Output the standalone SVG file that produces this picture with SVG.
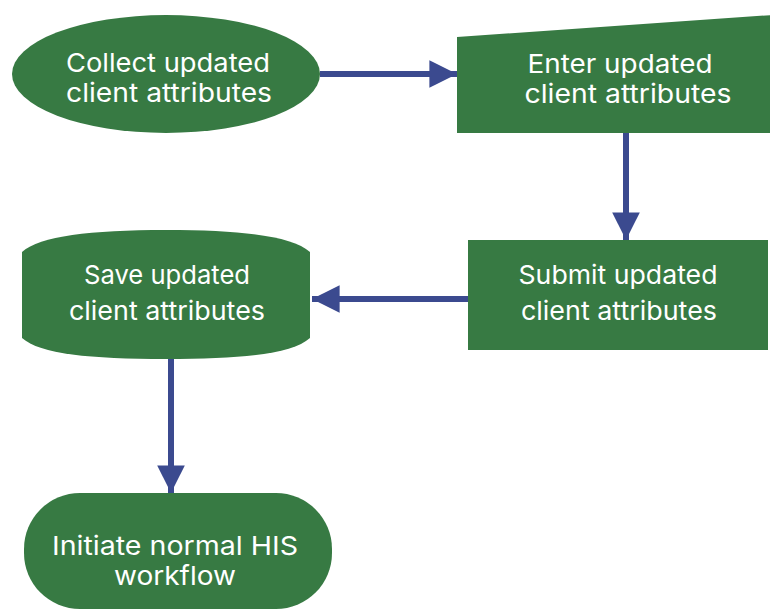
<svg xmlns="http://www.w3.org/2000/svg" width="770" height="609" viewBox="0 0 770 609">
  <style>
    .node { fill: #377a43; }
    .label { fill: #ffffff; font-family: Inter, "Open Sans", "Liberation Sans", sans-serif; font-size: 26px; font-weight: 400; text-anchor: middle; }
    .edge { stroke: #3b4a8f; stroke-width: 6; fill: none; }
  </style>
  <defs>
    <marker id="arrow" viewBox="0 0 10 10" refX="10" refY="5" markerWidth="4.6" markerHeight="4.6" markerUnits="strokeWidth" orient="auto">
      <path d="M0,0 L10,5 L0,10 Z" fill="#3b4a8f"/>
    </marker>
  </defs>
  <rect width="770" height="609" fill="#ffffff"/>

  <g id="connectors">
    <line class="edge" x1="320" y1="74" x2="457" y2="74" marker-end="url(#arrow)"/>
    <line class="edge" x1="626" y1="133" x2="626" y2="240" marker-end="url(#arrow)"/>
    <line class="edge" x1="468" y1="299" x2="312" y2="299" marker-end="url(#arrow)"/>
    <line class="edge" x1="171" y1="358" x2="171" y2="493" marker-end="url(#arrow)"/>
  </g>

  <g id="collect">
    <ellipse class="node" cx="166" cy="74" rx="154" ry="59"/>
    <text class="label" x="168" y="72" textLength="204" lengthAdjust="spacingAndGlyphs">Collect updated</text>
    <text class="label" x="169" y="102" textLength="206" lengthAdjust="spacingAndGlyphs">client attributes</text>
  </g>

  <g id="enter">
    <path class="node" d="M457,37 L772,15 L772,133 L457,133 Z"/>
    <text class="label" x="620" y="73" textLength="185" lengthAdjust="spacingAndGlyphs">Enter updated</text>
    <text class="label" x="628" y="103" textLength="207" lengthAdjust="spacingAndGlyphs">client attributes</text>
  </g>

  <g id="submit">
    <rect class="node" x="468" y="240" width="300" height="110"/>
    <text class="label" x="618" y="284" textLength="199" lengthAdjust="spacingAndGlyphs">Submit updated</text>
    <text class="label" x="619" y="320" textLength="196" lengthAdjust="spacingAndGlyphs">client attributes</text>
  </g>

  <g id="save">
    <path class="node" d="M22,252 C40,236 90,230 166,230 C242,230 292,236 310,252 L310,338 C292,354 242,359 166,359 C90,359 40,354 22,338 Z"/>
    <text class="label" x="167" y="284" textLength="166" lengthAdjust="spacingAndGlyphs">Save updated</text>
    <text class="label" x="167" y="320" textLength="196" lengthAdjust="spacingAndGlyphs">client attributes</text>
  </g>

  <g id="initiate">
    <rect class="node" x="24" y="493" width="308" height="116" rx="56" ry="56"/>
    <text class="label" x="175" y="555" textLength="246" lengthAdjust="spacingAndGlyphs">Initiate normal HIS</text>
    <text class="label" x="175" y="585" textLength="122" lengthAdjust="spacingAndGlyphs">workflow</text>
  </g>
</svg>
